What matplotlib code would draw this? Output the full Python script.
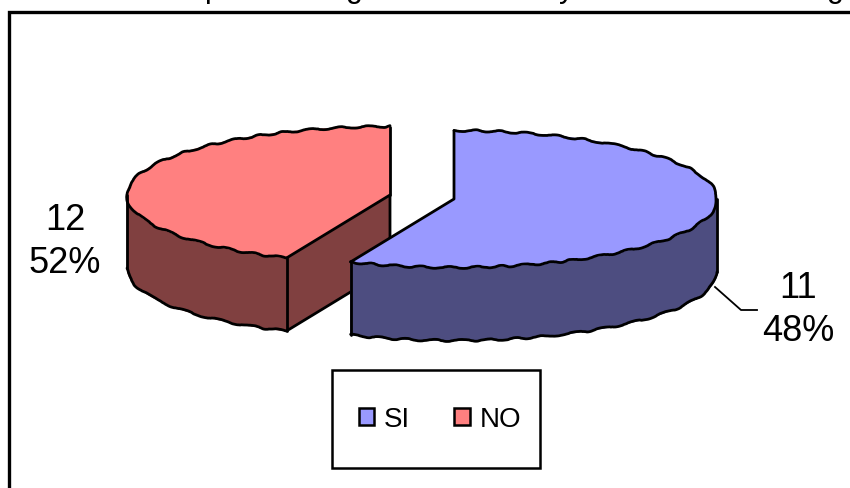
import numpy as np
import matplotlib
matplotlib.use("Agg")
import matplotlib.pyplot as plt
from matplotlib.patches import Patch, Polygon, Rectangle

plt.rcParams["font.family"] = ["Liberation Sans", "DejaVu Sans"]

categories = ["SI", "NO"]
counts = [11, 12]
percents = ["48%", "52%"]
face_colors = ["#9999FF", "#FF8080"]
side_colors = ["#4D4D80", "#804040"]

# only the descenders of the cropped title survive in the source image
title_letters = ["p", "g", "y", "g"]
title_letter_x = [213, 354, 567, 835]

W, H = 850, 489
RX, RY, DEPTH = 263, 68.5, 73
CENTERS = {"SI": (454, 200), "NO": (390, 196)}
# excel stretches the angles in its tilted 3d pie
STRETCH = 1.18
LW = 2


def ring(cx, cy, a0, a1, n=90):
    # angles clockwise from 12 o'clock, in degrees
    t = np.radians(np.linspace(a0, a1, n))
    return np.column_stack([cx + RX * np.sin(t), cy - RY * np.cos(t)])


def fill(ax, pts, color, z):
    ax.add_patch(Polygon(pts, closed=True, facecolor=color, edgecolor=color, lw=0.5, zorder=z))


def edge(ax, pts, z, wobble=False):
    pts = np.asarray(pts, dtype=float)
    (line,) = ax.plot(pts[:, 0], pts[:, 1], color="black", lw=LW, solid_capstyle="round", zorder=z + 0.1)
    if wobble:
        line.set_sketch_params(1.0, 30, 2.5)


fig = plt.figure(figsize=(W / 100, H / 100), dpi=100)
ax = fig.add_axes([0, 0, 1, 1])
ax.set_xlim(0, W)
ax.set_ylim(H, 0)
ax.axis("off")

# chart frame, runs off the right and bottom of the crop
ax.plot([9.5, 9.5, W + 5], [H + 5, 13, 13], color="black", lw=2.4, solid_joinstyle="miter")

for ch, x in zip(title_letters, title_letter_x):
    ax.text(x, -3, ch, fontsize=22, ha="center", va="baseline")

cut = 360 * counts[0] / sum(counts) * STRETCH
drop = np.array([0, DEPTH])

# NO slice, sits behind
z = 2
cx, cy = CENTERS["NO"]
apex = np.array([cx, cy])
arc = ring(cx, cy, cut, 360)
front = ring(cx, cy, cut, 270)
fill(ax, np.vstack([front, front[::-1] + drop]), side_colors[1], z)
fill(ax, [apex, arc[0], arc[0] + drop, apex + drop], side_colors[1], z)
fill(ax, np.vstack([[apex], arc]), face_colors[1], z)
edge(ax, arc, z, wobble=True)
edge(ax, front + drop, z, wobble=True)
edge(ax, [front[-1], front[-1] + drop], z)
edge(ax, [arc[0], arc[0] + drop], z)
edge(ax, [arc[0] + drop, apex + drop], z)
edge(ax, [apex + drop, apex, arc[0]], z)
edge(ax, [apex, arc[-1]], z)

# SI slice
z = 3
cx, cy = CENTERS["SI"]
apex = np.array([cx, cy])
arc = ring(cx, cy, 0, cut)
front = ring(cx, cy, 90, cut)
fill(ax, np.vstack([front, front[::-1] + drop]), side_colors[0], z)
fill(ax, np.vstack([[apex], arc]), face_colors[0], z)
edge(ax, arc, z, wobble=True)
edge(ax, front + drop, z, wobble=True)
edge(ax, [front[0], front[0] + drop], z)
edge(ax, [front[-1], front[-1] + drop], z)
edge(ax, [arc[0], apex, arc[-1]], z)

# leader line for the SI label
ax.plot([715, 741, 757], [288, 311, 311], color="black", lw=1.3)

ax.text(65, 242, f"{counts[1]}\n{percents[1]}", fontsize=26, ha="center", va="center", linespacing=1.32)
ax.text(798, 310, f"{counts[0]}\n{percents[0]}", fontsize=26, ha="center", va="center", linespacing=1.32)

# legend box is wider than tall padding allows, so the frame is drawn apart
ax.add_patch(Rectangle((332, 371), 208, 98, facecolor="white", edgecolor="black", lw=1.8))
handles = [Patch(facecolor=c, edgecolor="black", lw=1.8) for c in face_colors]
ax.legend(handles, categories, ncol=2, loc="center", bbox_to_anchor=(440 / W, 1 - 420 / H),
          fontsize=20, frameon=False, handlelength=0.55, handleheight=0.55,
          handletextpad=0.35, columnspacing=1.6, borderpad=0, borderaxespad=0)

fig.savefig("out.png", dpi=100)
